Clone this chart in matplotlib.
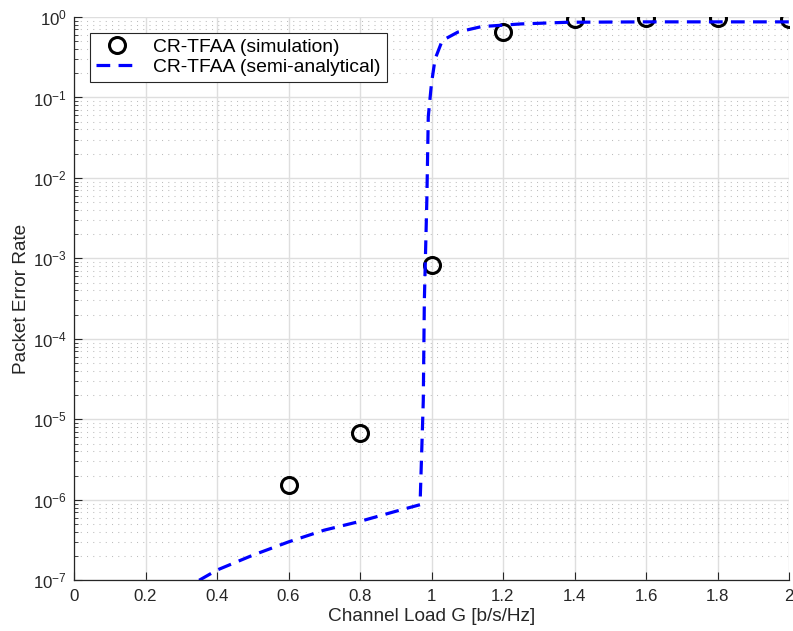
import matplotlib
matplotlib.use('Agg')
import matplotlib.pyplot as plt
from matplotlib.ticker import FixedLocator, NullFormatter

plt.rcParams['font.family'] = ['Liberation Sans', 'DejaVu Sans']
plt.rcParams['mathtext.fontset'] = 'custom'
plt.rcParams['mathtext.rm'] = 'Liberation Sans'
plt.rcParams['mathtext.it'] = 'Liberation Sans'

# simulation points
g_sim = [0.6, 0.8, 1.0, 1.2, 1.4, 1.6, 1.8, 2.0]
per_sim = [1.54e-6, 6.7e-6, 8.3e-4, 0.66, 0.935, 0.96, 0.96, 0.935]

# semi-analytical curve
g_ana = [0.35, 0.40, 0.50, 0.60, 0.70, 0.80, 0.90, 0.968, 0.977, 0.980,
         0.987, 0.991, 1.00, 1.01, 1.03, 1.074, 1.14, 1.25, 1.38, 1.6, 2.0]
per_ana = [1.0e-7, 1.34e-7, 2.05e-7, 3.0e-7, 4.2e-7, 5.4e-7, 7.2e-7, 8.7e-7, 1.7e-5, 3.0e-4,
           5.4e-3, 5.8e-2, 0.15, 0.30, 0.51, 0.65, 0.76, 0.82, 0.86, 0.87, 0.87]

x_ticks = [0, 0.2, 0.4, 0.6, 0.8, 1, 1.2, 1.4, 1.6, 1.8, 2]
x_labels = ['0', '0.2', '0.4', '0.6', '0.8', '1', '1.2', '1.4', '1.6', '1.8', '2']
y_exps = [-7, -6, -5, -4, -3, -2, -1, 0]

txt = '#262626'
fig = plt.figure(figsize=(7.93, 6.31), dpi=100)
ax = fig.add_axes([74 / 793, 1 - 580.3 / 631, 715 / 793, 563.3 / 631])

ax.plot(g_sim, per_sim, 'o', color='black', markerfacecolor='none',
        markersize=11.5, markeredgewidth=2.2, label='CR-TFAA (simulation)')
ax.plot(g_ana, per_ana, color=(0, 0, 1), linewidth=2.3,
        linestyle=(0, (4.3, 2.6)), label='CR-TFAA (semi-analytical)')

ax.set_yscale('log')
ax.set_xlim(0, 2)
ax.set_ylim(1e-7, 1)
ax.set_xticks(x_ticks)
ax.set_xticklabels(x_labels)
ax.set_yticks([10.0 ** e for e in y_exps])
ax.set_yticklabels([r'$10^{%d}$' % e for e in y_exps])
minor = [m * 10.0 ** e for e in y_exps[:-1] for m in range(2, 10)]
ax.yaxis.set_minor_locator(FixedLocator(minor))
ax.yaxis.set_minor_formatter(NullFormatter())

ax.grid(True, which='major', color='#dedede', linewidth=1.0, linestyle='-')
ax.grid(True, which='minor', axis='y', color='#bdbdbd', linewidth=0.75, linestyle=(0, (1, 5)))
ax.set_axisbelow(True)

for s in ['top', 'right']:
    ax.spines[s].set_visible(False)
for s in ['left', 'bottom']:
    ax.spines[s].set_color(txt)
    ax.spines[s].set_linewidth(0.9)

ax.tick_params(which='both', direction='in', colors=txt, labelsize=12.2)
ax.tick_params(which='major', length=6)
ax.tick_params(which='minor', length=3)
ax.tick_params(axis='x', pad=6)
ax.tick_params(axis='y', pad=5)

ax.set_xlabel('Channel Load G [b/s/Hz]', fontsize=13.7, color=txt, labelpad=3)
ax.set_ylabel('Packet Error Rate', fontsize=13.7, color=txt, labelpad=2)

leg = ax.legend(loc='upper left', bbox_to_anchor=(0.022, 0.972), borderaxespad=0,
                fontsize=13.9, fancybox=False, framealpha=1, edgecolor=txt,
                handlelength=2.2, borderpad=0.3, labelspacing=0.12, handletextpad=0.8)
leg.get_frame().set_linewidth(0.8)

fig.savefig('out.png', dpi=100)
